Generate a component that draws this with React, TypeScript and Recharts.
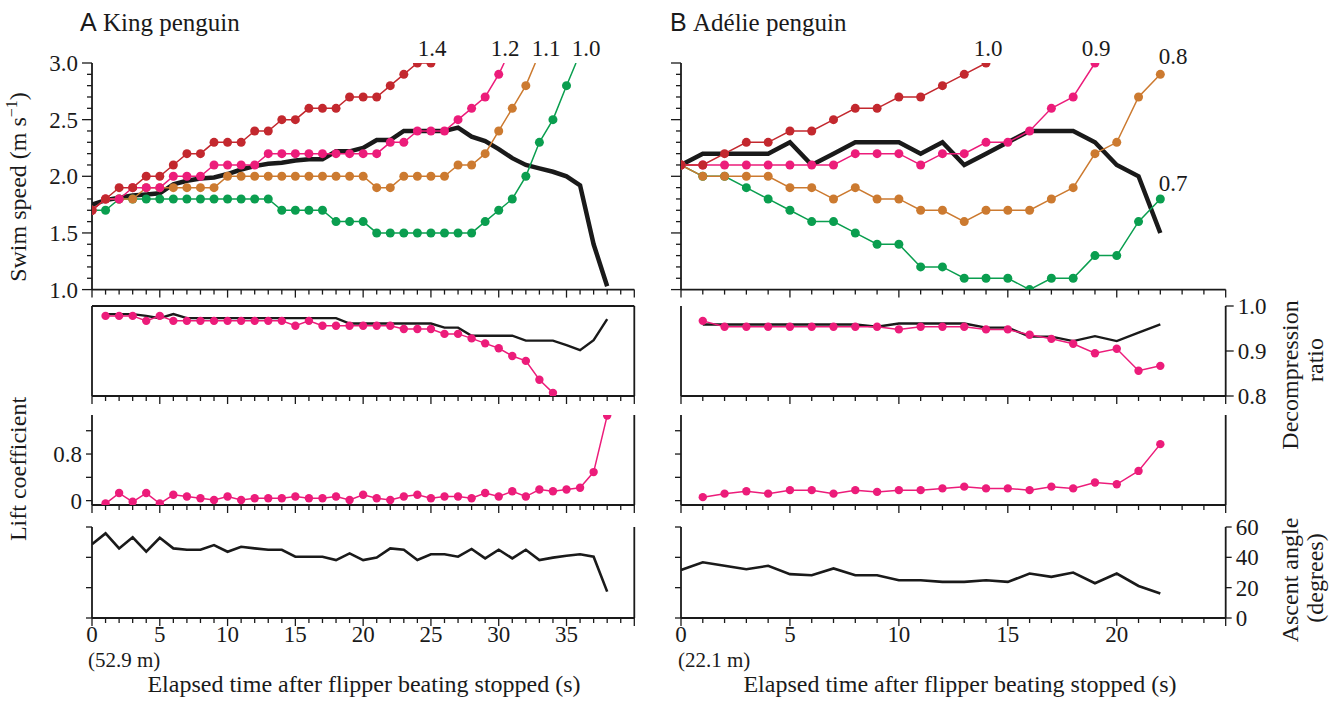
import React from 'react';
import { LineChart, Line, XAxis, YAxis, ReferenceLine } from 'recharts';

const SERIF = '"Liberation Serif", "DejaVu Serif", serif';
const SANS = '"Liberation Sans", Arial, sans-serif';
const INK = '#1a1a1a';
const RED = '#c3282e';
const PINK = '#ec1c7a';
const ORANGE = '#cc7a30';
const GREEN = '#0a9e4f';
const NUM_FS = 23;
const TXT_FS = 24;

// ---------- King penguin (A), values per second starting at t = 0 ----------
const kingSpeed14 = [1.7, 1.8, 1.9, 1.9, 2.0, 2.0, 2.1, 2.2, 2.2, 2.3, 2.3, 2.3, 2.4, 2.4, 2.5, 2.5, 2.6, 2.6, 2.6, 2.7, 2.7, 2.7, 2.8, 2.9, 3.0, 3.0];
const kingSpeed12 = [1.7, 1.8, 1.8, 1.9, 1.9, 1.9, 2.0, 2.0, 2.0, 2.1, 2.1, 2.1, 2.1, 2.2, 2.2, 2.2, 2.2, 2.2, 2.2, 2.2, 2.2, 2.2, 2.3, 2.3, 2.4, 2.4, 2.4, 2.5, 2.6, 2.7, 2.9];
const kingSpeed11 = [1.7, 1.8, 1.8, 1.8, 1.9, 1.9, 1.9, 1.9, 1.9, 1.9, 2.0, 2.0, 2.0, 2.0, 2.0, 2.0, 2.0, 2.0, 2.0, 2.0, 2.0, 1.9, 1.9, 2.0, 2.0, 2.0, 2.0, 2.1, 2.1, 2.2, 2.4, 2.6, 2.8];
const kingSpeed10 = [1.7, 1.7, 1.8, 1.8, 1.8, 1.8, 1.8, 1.8, 1.8, 1.8, 1.8, 1.8, 1.8, 1.8, 1.7, 1.7, 1.7, 1.7, 1.6, 1.6, 1.6, 1.5, 1.5, 1.5, 1.5, 1.5, 1.5, 1.5, 1.5, 1.6, 1.7, 1.8, 2.0, 2.3, 2.5, 2.8];
// where the curves leave the top of the panel (time s, speed)
const kingExit12 = [30.4, 3.0];
const kingExit11 = [32.7, 3.0];
const kingExit10 = [35.7, 3.0];
const kingSpeedObs = [1.75, 1.79, 1.81, 1.83, 1.84, 1.85, 1.93, 1.96, 1.98, 1.99, 2.02, 2.06, 2.09, 2.11, 2.12, 2.14, 2.15, 2.15, 2.22, 2.22, 2.25, 2.32, 2.32, 2.4, 2.4, 2.4, 2.4, 2.43, 2.35, 2.31, 2.24, 2.16, 2.1, 2.07, 2.04, 2.0, 1.92, 1.4, 1.03];
// from t = 1
const kingDecompModel = [0.978, 0.978, 0.978, 0.967, 0.978, 0.967, 0.967, 0.967, 0.967, 0.967, 0.967, 0.967, 0.967, 0.967, 0.956, 0.967, 0.956, 0.956, 0.956, 0.956, 0.956, 0.956, 0.949, 0.949, 0.949, 0.938, 0.938, 0.928, 0.917, 0.906, 0.889, 0.878, 0.836, 0.807];
const kingDecompObs = [0.982, 0.982, 0.982, 0.978, 0.973, 0.982, 0.973, 0.973, 0.973, 0.973, 0.973, 0.973, 0.973, 0.973, 0.973, 0.973, 0.973, 0.973, 0.961, 0.961, 0.961, 0.961, 0.961, 0.961, 0.961, 0.952, 0.952, 0.934, 0.934, 0.934, 0.934, 0.923, 0.923, 0.923, 0.913, 0.902, 0.924, 0.971];
const kingLift = [-0.05, 0.13, -0.02, 0.13, -0.05, 0.1, 0.07, 0.04, 0.01, 0.07, 0.01, 0.04, 0.04, 0.04, 0.07, 0.04, 0.04, 0.07, 0.01, 0.1, 0.04, 0.01, 0.07, 0.1, 0.04, 0.07, 0.07, 0.04, 0.13, 0.07, 0.16, 0.07, 0.19, 0.16, 0.19, 0.22, 0.49, 1.46];
// from t = 0
const kingAngle = [48.6, 55.8, 45.9, 53.2, 43.7, 52.9, 45.9, 45.0, 45.0, 48.1, 43.7, 47.0, 45.9, 45.0, 45.0, 40.4, 40.4, 40.4, 38.2, 42.6, 38.2, 39.8, 45.9, 45.0, 38.2, 42.0, 42.0, 40.4, 45.5, 39.3, 45.0, 39.3, 45.0, 38.2, 39.8, 41.0, 42.0, 40.4, 17.4];

// ---------- Adélie penguin (B) ----------
const adelieSpeed10 = [2.1, 2.1, 2.2, 2.3, 2.3, 2.4, 2.4, 2.5, 2.6, 2.6, 2.7, 2.7, 2.8, 2.9, 3.0];
const adelieSpeed09 = [2.1, 2.1, 2.1, 2.1, 2.1, 2.1, 2.1, 2.1, 2.2, 2.2, 2.2, 2.1, 2.2, 2.2, 2.3, 2.3, 2.4, 2.6, 2.7, 3.0];
const adelieSpeed08 = [2.1, 2.0, 2.0, 2.0, 2.0, 1.9, 1.9, 1.8, 1.9, 1.8, 1.8, 1.7, 1.7, 1.6, 1.7, 1.7, 1.7, 1.8, 1.9, 2.2, 2.3, 2.7, 2.9];
const adelieSpeed07 = [2.1, 2.0, 2.0, 1.9, 1.8, 1.7, 1.6, 1.6, 1.5, 1.4, 1.4, 1.2, 1.2, 1.1, 1.1, 1.1, 1.0, 1.1, 1.1, 1.3, 1.3, 1.6, 1.8];
const adelieSpeedObs = [2.1, 2.2, 2.2, 2.2, 2.2, 2.3, 2.1, 2.2, 2.3, 2.3, 2.3, 2.2, 2.3, 2.1, 2.2, 2.3, 2.4, 2.4, 2.4, 2.3, 2.1, 2.0, 1.5];
// from t = 1
const adelieDecompModel = [0.967, 0.954, 0.954, 0.954, 0.954, 0.954, 0.954, 0.954, 0.954, 0.948, 0.954, 0.954, 0.954, 0.948, 0.948, 0.936, 0.927, 0.916, 0.895, 0.905, 0.856, 0.867];
const adelieDecompObs = [0.959, 0.959, 0.959, 0.959, 0.959, 0.959, 0.959, 0.959, 0.954, 0.961, 0.961, 0.961, 0.961, 0.952, 0.952, 0.932, 0.932, 0.922, 0.933, 0.922, 0.941, 0.959];
const adelieLift = [0.06, 0.12, 0.16, 0.12, 0.18, 0.18, 0.12, 0.18, 0.15, 0.18, 0.18, 0.21, 0.24, 0.21, 0.21, 0.18, 0.24, 0.21, 0.31, 0.28, 0.51, 0.97];
// from t = 0
const adelieAngle = [31.6, 36.7, 34.4, 32.2, 34.4, 28.9, 28.2, 32.7, 28.2, 28.2, 24.9, 24.9, 23.8, 23.8, 24.9, 23.8, 29.3, 27.1, 30.0, 22.9, 29.3, 21.1, 16.2];

// tick values
const kingTimeTicks = Array.from({ length: 41 }, (_, i) => i);
const adelieTimeTicks = Array.from({ length: 26 }, (_, i) => i);
const speedTicks = [1.0, 1.1, 1.2, 1.3, 1.4, 1.5, 1.6, 1.7, 1.8, 1.9, 2.0, 2.1, 2.2, 2.3, 2.4, 2.5, 2.6, 2.7, 2.8, 2.9, 3.0];
const decompTicks = [0.8, 0.9, 1.0];
const liftTicks = [0, 0.4, 0.8, 1.2];
const liftLabels = ['0', '', '0.8', ''];
const angleTicks = [0, 20, 40, 60];

type Pt = { t: number; v: number };
const pts = (vals: number[], start: number, exit?: number[]): Pt[] => {
  const out = vals.map((v, i) => ({ t: start + i, v }));
  if (exit) out.push({ t: exit[0], v: exit[1] });
  return out;
};

const dotFn = (color: string, r: number) => (p: any) =>
  Number.isInteger(p?.payload?.t) ? (
    <circle key={`d-${p.index}`} cx={p.cx} cy={p.cy} r={r} fill={color} stroke="none" />
  ) : (
    <g key={`d-${p.index}`} />
  );

const xTick = (max: number, labels: boolean) => (props: any) => {
  const { x, y, payload } = props;
  const v = Number(payload.value);
  const major = v % 5 === 0;
  return (
    <g key={`xt-${v}`}>
      <line x1={x} x2={x} y1={y} y2={y + (major ? 8 : 5)} stroke={INK} strokeWidth={1.3} />
      {labels && major && v < max ? (
        <text x={x} y={y + 24} textAnchor="middle" fontFamily={SERIF} fontSize={NUM_FS} fill={INK}>
          {v}
        </text>
      ) : null}
    </g>
  );
};

const yTick = (side: 'left' | 'right', isMajor: (v: number) => boolean, majorLen: number, minorLen: number, label?: (v: number) => string) => (props: any) => {
  const { x, y, payload } = props;
  const v = Number(payload.value);
  const dir = side === 'left' ? -1 : 1;
  const len = isMajor(v) ? majorLen : minorLen;
  const lab = label ? label(v) : '';
  return (
    <g key={`yt-${v}`}>
      <line x1={x} x2={x + dir * len} y1={y} y2={y} stroke={INK} strokeWidth={1.3} />
      {lab ? (
        <text x={x + dir * (len + 4)} y={y} dy="0.35em" textAnchor={side === 'left' ? 'end' : 'start'} fontFamily={SERIF} fontSize={NUM_FS} fill={INK}>
          {lab}
        </text>
      ) : null}
    </g>
  );
};

const COLS = {
  A: { x0: 91.7, x1: 634, max: 40, ticks: kingTimeTicks },
  B: { x0: 681.3, x1: 1226, max: 25, ticks: adelieTimeTicks },
};
const ROWS = {
  speed: { y0: 62.7, y1: 289.3, domain: [1.0, 3.0] as [number, number] },
  decomp: { y0: 306, y1: 396, domain: [0.8, 1.0] as [number, number] },
  lift: { y0: 415, y1: 505, domain: [-0.075, 1.47] as [number, number] },
  angle: { y0: 527, y1: 618, domain: [0, 60] as [number, number] },
};

const AXW = 70;
const MT = 20;
const XH = 45;

type PanelProps = {
  col: 'A' | 'B';
  row: keyof typeof ROWS;
  xLabels?: boolean;
  leftTicks?: number[];
  leftTick?: any;
  rightTicks?: number[];
  rightTick?: any;
  rightAxisLine?: boolean;
  rightFrame?: boolean;
  topFrame?: boolean;
  children?: React.ReactNode;
};

function Panel({ col, row, xLabels = false, leftTicks, leftTick, rightTicks, rightTick, rightAxisLine = false, rightFrame = false, topFrame = false, children }: PanelProps) {
  const c = COLS[col];
  const r = ROWS[row];
  const W = c.x1 - c.x0 + 2 * AXW;
  const H = r.y1 - r.y0 + MT + XH;
  const axisStyle = { stroke: INK, strokeWidth: 1.8 };
  return (
    <div style={{ position: 'absolute', left: c.x0 - AXW, top: r.y0 - MT }}>
      <LineChart width={W} height={H} margin={{ top: MT, right: 0, bottom: 0, left: 0 }} style={{ overflow: 'visible' }}>
        <XAxis
          type="number"
          dataKey="t"
          domain={[0, c.max]}
          ticks={c.ticks}
          interval={0}
          height={XH}
          tickSize={0}
          tickMargin={0}
          tickLine={false}
          axisLine={axisStyle}
          tick={xTick(c.max, xLabels)}
          allowDataOverflow
        />
        <YAxis
          yAxisId="l"
          orientation="left"
          width={AXW}
          type="number"
          domain={r.domain}
          ticks={leftTicks}
          interval={0}
          tickSize={0}
          tickMargin={0}
          tickLine={false}
          axisLine={axisStyle}
          tick={leftTick ?? false}
          allowDataOverflow
        />
        <YAxis
          yAxisId="r"
          orientation="right"
          width={AXW}
          type="number"
          domain={r.domain}
          ticks={rightTicks}
          interval={0}
          tickSize={0}
          tickMargin={0}
          tickLine={false}
          axisLine={rightAxisLine ? axisStyle : false}
          tick={rightTick ?? false}
          allowDataOverflow
        />
        {topFrame ? <ReferenceLine yAxisId="l" y={r.domain[1]} stroke={INK} strokeWidth={1.8} /> : null}
        {rightFrame ? <ReferenceLine yAxisId="l" x={c.max} stroke={INK} strokeWidth={1.8} /> : null}
        {children}
      </LineChart>
    </div>
  );
}

const model = (data: Pt[], color: string, r = 4.5, key?: string) => (
  <Line key={key} yAxisId="l" data={data} dataKey="v" type="linear" stroke={color} strokeWidth={1.5} dot={dotFn(color, r)} activeDot={false} isAnimationActive={false} />
);
const obs = (data: Pt[], w: number, key?: string) => (
  <Line key={key} yAxisId="l" data={data} dataKey="v" type="linear" stroke={INK} strokeWidth={w} dot={false} activeDot={false} strokeLinejoin="miter" isAnimationActive={false} />
);

const speedMajor = (v: number) => Math.abs(v * 2 - Math.round(v * 2)) < 1e-6;

const seriesLabels = [
  { text: '1.4', x: 432, y: 56 },
  { text: '1.2', x: 505, y: 56 },
  { text: '1.1', x: 546, y: 56 },
  { text: '1.0', x: 586, y: 56 },
  { text: '1.0', x: 988, y: 56 },
  { text: '0.9', x: 1096, y: 56 },
  { text: '0.8', x: 1173, y: 64 },
  { text: '0.7', x: 1173, y: 191 },
];

export default function App() {
  return (
    <div style={{ position: 'absolute', left: 0, top: 0, width: 1336, height: 712, background: '#fff', overflow: 'hidden' }}>
      {/* Row 1: swim speed */}
      <Panel col="A" row="speed" leftTicks={speedTicks} leftTick={yTick('left', speedMajor, 10, 5, (v) => (speedMajor(v) ? v.toFixed(1) : ''))}>
        {obs(pts(kingSpeedObs, 0), 4.5, 'ko')}
        {model(pts(kingSpeed10, 0, kingExit10), GREEN, 4.5, 'k10')}
        {model(pts(kingSpeed11, 0, kingExit11), ORANGE, 4.5, 'k11')}
        {model(pts(kingSpeed12, 0, kingExit12), PINK, 4.5, 'k12')}
        {model(pts(kingSpeed14, 0), RED, 4.5, 'k14')}
      </Panel>
      <Panel col="B" row="speed" leftTicks={speedTicks} leftTick={yTick('left', speedMajor, 10, 5)}>
        {obs(pts(adelieSpeedObs, 0), 4.5, 'ao')}
        {model(pts(adelieSpeed07, 0), GREEN, 4.5, 'a07')}
        {model(pts(adelieSpeed08, 0), ORANGE, 4.5, 'a08')}
        {model(pts(adelieSpeed09, 0), PINK, 4.5, 'a09')}
        {model(pts(adelieSpeed10, 0), RED, 4.5, 'a10')}
      </Panel>

      {/* Row 2: decompression ratio */}
      <Panel col="A" row="decomp" topFrame rightFrame>
        {obs(pts(kingDecompObs, 1), 2.4, 'kdo')}
        {model(pts(kingDecompModel, 1), PINK, 4.2, 'kdm')}
      </Panel>
      <Panel col="B" row="decomp" rightAxisLine rightTicks={decompTicks} rightTick={yTick('right', () => true, 8, 8, (v) => v.toFixed(1))}>
        {obs(pts(adelieDecompObs, 1), 2.4, 'ado')}
        {model(pts(adelieDecompModel, 1), PINK, 4.2, 'adm')}
      </Panel>

      {/* Row 3: lift coefficient */}
      <Panel col="A" row="lift" rightFrame leftTicks={liftTicks} leftTick={yTick('left', () => true, 6, 6, (v) => liftLabels[liftTicks.indexOf(v)] ?? '')}>
        {model(pts(kingLift, 1), PINK, 4.2, 'kl')}
      </Panel>
      <Panel col="B" row="lift" rightFrame leftTicks={liftTicks} leftTick={yTick('left', () => true, 6, 6)}>
        {model(pts(adelieLift, 1), PINK, 4.2, 'al')}
      </Panel>

      {/* Row 4: ascent angle */}
      <Panel col="A" row="angle" xLabels rightFrame leftTicks={angleTicks} leftTick={yTick('left', () => true, 6, 6)}>
        {obs(pts(kingAngle, 0), 2.6, 'ka')}
      </Panel>
      <Panel col="B" row="angle" xLabels rightAxisLine leftTicks={angleTicks} leftTick={yTick('left', () => true, 6, 6)} rightTicks={angleTicks} rightTick={yTick('right', () => true, 6, 6, (v) => String(v))}>
        {obs(pts(adelieAngle, 0), 2.6, 'aa')}
      </Panel>

      <svg width={1336} height={712} style={{ position: 'absolute', left: 0, top: 0, pointerEvents: 'none' }}>
        <text x={80} y={31} fontFamily={SANS} fontSize={25} fill={INK}>A</text>
        <text x={103} y={31} fontFamily={SERIF} fontSize={TXT_FS + 1} fill={INK}>King penguin</text>
        <text x={670} y={31} fontFamily={SANS} fontSize={25} fill={INK}>B</text>
        <text x={693} y={31} fontFamily={SERIF} fontSize={TXT_FS + 1} fill={INK}>Adélie penguin</text>

        {seriesLabels.map((l, i) => (
          <text key={i} x={l.x} y={l.y} textAnchor="middle" fontFamily={SERIF} fontSize={NUM_FS} fill={INK}>{l.text}</text>
        ))}

        <text transform="translate(26,187) rotate(-90)" textAnchor="middle" fontFamily={SERIF} fontSize={TXT_FS} fill={INK}>
          Swim speed (m s<tspan dy={-9} fontSize={16}>−1</tspan><tspan dy={9}>)</tspan>
        </text>
        <text transform="translate(26,469) rotate(-90)" textAnchor="middle" fontFamily={SERIF} fontSize={TXT_FS} fill={INK}>Lift coefficient</text>

        <text transform="translate(1298,375) rotate(-90)" textAnchor="middle" fontFamily={SERIF} fontSize={TXT_FS} fill={INK}>Decompression</text>
        <text transform="translate(1323,360) rotate(-90)" textAnchor="middle" fontFamily={SERIF} fontSize={TXT_FS} fill={INK}>ratio</text>
        <text transform="translate(1298,580) rotate(-90)" textAnchor="middle" fontFamily={SERIF} fontSize={TXT_FS} fill={INK}>Ascent angle</text>
        <text transform="translate(1323,578) rotate(-90)" textAnchor="middle" fontFamily={SERIF} fontSize={TXT_FS} fill={INK}>(degrees)</text>

        <text x={88} y={667} fontFamily={SERIF} fontSize={21} fill={INK}>(52.9 m)</text>
        <text x={678} y={667} fontFamily={SERIF} fontSize={21} fill={INK}>(22.1 m)</text>
        <text x={364} y={692} textAnchor="middle" fontFamily={SERIF} fontSize={TXT_FS} fill={INK}>Elapsed time after flipper beating stopped (s)</text>
        <text x={960} y={692} textAnchor="middle" fontFamily={SERIF} fontSize={TXT_FS} fill={INK}>Elapsed time after flipper beating stopped (s)</text>
      </svg>
    </div>
  );
}
